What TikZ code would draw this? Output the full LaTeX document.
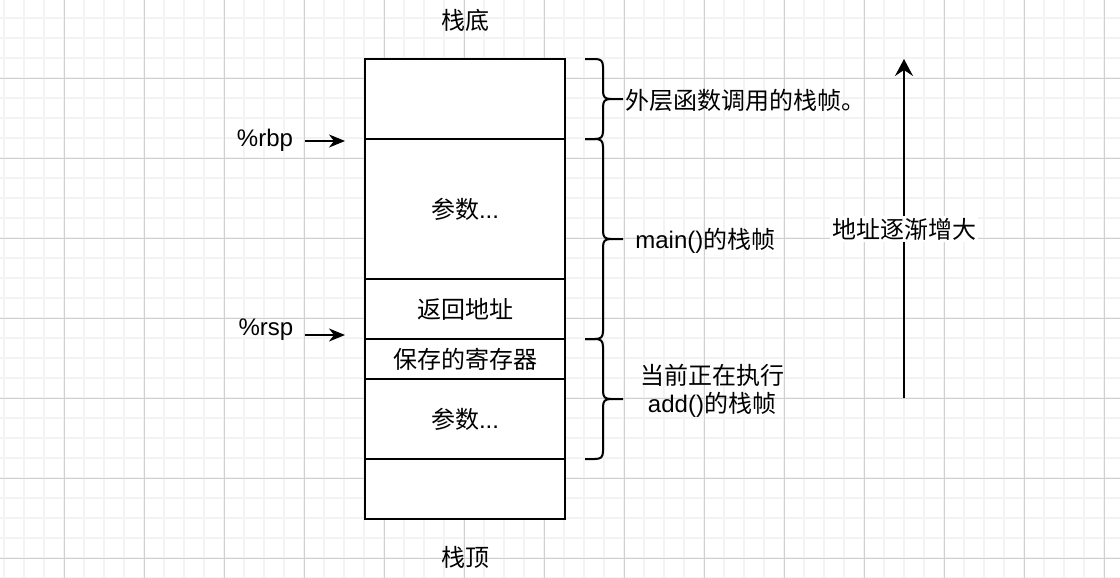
\documentclass[tikz,border=0pt]{standalone}
\usepackage{fontspec}
\setmainfont{Liberation Sans}
\newfontfamily\cjk{Noto Sans CJK SC}
\usetikzlibrary{arrows.meta}
\definecolor{minorc}{HTML}{F3F3F3}
\definecolor{majorc}{HTML}{D0D0D0}
\newcommand{\mybrace}[3]{%
  \draw[bracestyle] (585,#1) -- (595,#1) .. controls (601,#1) and (603,#1+2) .. (603,#1+8)
    -- (603,#3-8) .. controls (603,#3-2) and (605,#3) .. (611,#3) -- (623,#3);
  \draw[bracestyle] (585,#2) -- (595,#2) .. controls (601,#2) and (603,#2-2) .. (603,#2-8)
    -- (603,#3+8) .. controls (603,#3+2) and (605,#3) .. (611,#3);
}
\begin{document}
\begin{tikzpicture}[x=0.5pt,y=-0.5pt,
  every node/.style={font=\fontsize{12}{14}\selectfont, inner sep=0pt},
  minorline/.style={minorc, line width=1pt},
  majorline/.style={majorc, line width=0.5pt},
  cell/.style={draw=black, fill=white, line width=1pt, minimum width=100pt},
  bracestyle/.style={black, line width=1pt},
  arr/.style={black, line width=1pt, -{Stealth[length=8pt,width=6.5pt,inset=2.5pt]}},
  bigarr/.style={black, line width=1pt, -{Stealth[length=8.5pt,width=9pt,inset=3pt]}}]
\useasboundingbox (0,0) rectangle (1120,578);
\fill[white] (0,0) rectangle (1120,578);
% grid
\foreach \x in {4,24,...,1104} \draw[minorline] (\x,0) -- (\x,578);
\foreach \y in {18,38,...,578} \draw[minorline] (0,\y) -- (1120,\y);
\foreach \x in {64,144,...,1104} \draw[majorline] (\x,0) -- (\x,578);
\foreach \y in {78,158,...,558} \draw[majorline] (0,\y) -- (1120,\y);
% stack cells
\node[cell, minimum height=40pt] (c1) at (465,99) {};
\node[cell, minimum height=70pt] (c2) at (465,209) {{\cjk 参数}...};
\node[cell, minimum height=30pt] (c3) at (465,309) {\cjk 返回地址};
\node[cell, minimum height=20pt] (c4) at (465,359) {\cjk 保存的寄存器};
\node[cell, minimum height=40pt] (c5) at (465,419) {{\cjk 参数}...};
\node[cell, minimum height=30pt] (c6) at (465,489) {};
% top/bottom labels
\node (bot) at (465,20) {\cjk 栈底};
\node (top) at (465,557) {\cjk 栈顶};
% register pointers
\node (rbp) at (265,140) {\%rbp};
\node (rsp) at (266,330) {\%rsp};
\coordinate (rbpA) at (305,141);
\coordinate (rbpB) at (345,141);
\coordinate (rspA) at (305,335);
\coordinate (rspB) at (345,335);
\draw[arr] (rbpA) -- (rbpB);
\draw[arr] (rspA) -- (rspB);
% braces
\mybrace{59}{139}{99}
\mybrace{139}{339}{239}
\mybrace{339}{459}{399}
\node[anchor=west] (outer) at (625,100) {\cjk 外层函数调用的栈帧。};
\node[anchor=west] (mainf) at (635,241) {main(){\cjk 的栈帧}};
\node[align=center] (addf) at (712,391) {{\cjk 当前正在执行}\\add(){\cjk 的栈帧}};
% address arrow
\coordinate (upA) at (904,398);
\coordinate (upB) at (904,59);
\draw[bigarr] (upA) -- (upB);
\node[fill=white, inner sep=1pt] (addr) at (904,229) {\cjk 地址逐渐增大};
\end{tikzpicture}
\end{document}
